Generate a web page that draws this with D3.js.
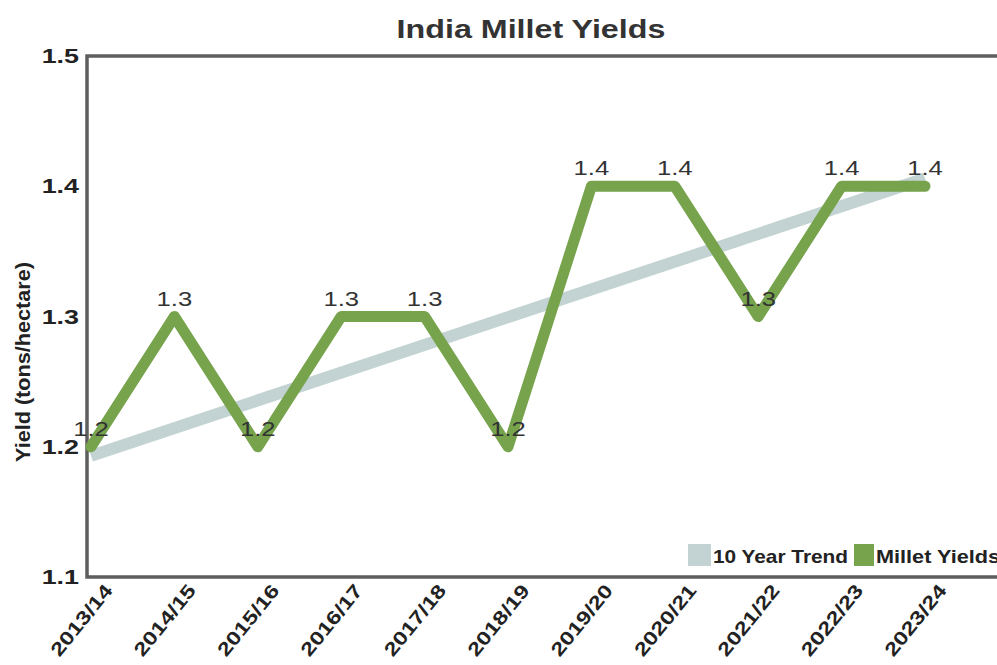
<!DOCTYPE html>
<html>
<head>
<meta charset="utf-8">
<script src="https://cdn.jsdelivr.net/npm/d3@7"></script>
<style>
  html, body { margin: 0; padding: 0; background: #fff; }
  svg { display: block; font-family: "Liberation Sans", Arial, Helvetica, sans-serif; }
</style>
</head>
<body>
<svg id="chart" width="997" height="665"></svg>
<script>
// Crop years and yields (tons/hectare)
const seasons = ["2013/14", "2014/15", "2015/16", "2016/17", "2017/18", "2018/19",
                 "2019/20", "2020/21", "2021/22", "2022/23", "2023/24"];
const milletYields = [1.2, 1.3, 1.2, 1.3, 1.3, 1.2, 1.4, 1.4, 1.3, 1.4, 1.4];
// 10-year trend line, start and end values
const trendSeasons = ["2013/14", "2023/24"];
const trendValues = [1.193, 1.406];
const yTicks = [1.1, 1.2, 1.3, 1.4, 1.5];

const svg = d3.select("#chart");
const plot = { left: 87, top: 56, right: 1010, bottom: 577 };
const GREEN = "#76a34c", TREND = "#c3d2d2", INK = "#222";

const x = d3.scalePoint().domain(seasons).range([91, 925]);
const y = d3.scaleLinear().domain([1.1, 1.5]).range([plot.bottom, plot.top]);

// Widen glyphs horizontally by factor k (wide grotesque look)
function widen(sel, k) {
  sel.each(function () {
    const w = this.getComputedTextLength();
    d3.select(this).attr("textLength", w * k).attr("lengthAdjust", "spacingAndGlyphs");
  });
  return sel;
}

// Title
svg.append("text")
  .attr("x", 531).attr("y", 38)
  .attr("text-anchor", "middle")
  .attr("font-size", 25).attr("font-weight", "bold")
  .attr("fill", "#333")
  .text("India Millet Yields")
  .call(widen, 1.29);

// Plot frame (left, top, bottom)
svg.append("path")
  .attr("d", `M${plot.right},${plot.top}H${plot.left}V${plot.bottom}H${plot.right}`)
  .attr("fill", "none").attr("stroke", "#5e5e5e").attr("stroke-width", 3.5);

// Y axis
const yAxis = d3.axisLeft(y).tickValues(yTicks).tickSize(0).tickPadding(8)
  .tickFormat(d3.format(".1f"));
const gy = svg.append("g").attr("transform", `translate(${plot.left},0)`).call(yAxis);
gy.select(".domain").remove();
gy.selectAll("text")
  .attr("font-size", 21).attr("font-weight", "bold").attr("fill", INK)
  .attr("font-family", "Liberation Sans, Arial, sans-serif")
  .call(widen, 1.28);

svg.append("text")
  .attr("transform", "translate(30,362) rotate(-90)")
  .attr("text-anchor", "middle")
  .attr("font-size", 20).attr("font-weight", "bold").attr("fill", INK)
  .attr("textLength", 200).attr("lengthAdjust", "spacingAndGlyphs")
  .text("Yield (tons/hectare)");

// X axis labels
const xAxis = d3.axisBottom(x).tickSize(0).tickPadding(0);
const gx = svg.append("g").attr("transform", `translate(0,${plot.bottom})`).call(xAxis);
gx.select(".domain").remove();
gx.selectAll("text")
  .attr("font-size", 19).attr("font-weight", "bold").attr("fill", INK)
  .attr("font-family", "Liberation Sans, Arial, sans-serif")
  .attr("text-anchor", "end")
  .attr("dy", null).attr("y", 0)
  .attr("transform", "translate(22,14) rotate(-51)")
  .attr("textLength", 86).attr("lengthAdjust", "spacingAndGlyphs");

// Trend line
svg.append("path")
  .datum(trendSeasons.map((s, i) => [s, trendValues[i]]))
  .attr("fill", "none")
  .attr("stroke", TREND).attr("stroke-width", 12)
  .attr("d", d3.line().x(d => x(d[0])).y(d => y(d[1])));

// Millet yield line
const pts = seasons.map((s, i) => [s, milletYields[i]]);
svg.append("path")
  .datum(pts)
  .attr("fill", "none")
  .attr("stroke", GREEN).attr("stroke-width", 11)
  .attr("stroke-linejoin", "round").attr("stroke-linecap", "round")
  .attr("d", d3.line().x(d => x(d[0])).y(d => y(d[1])));

// Value labels
svg.append("g").selectAll("text")
  .data(pts).join("text")
  .attr("x", d => x(d[0]))
  .attr("y", d => y(d[1]) - 11)
  .attr("text-anchor", "middle")
  .attr("font-size", 20).attr("fill", "#333")
  .text(d => d3.format(".1f")(d[1]))
  .call(widen, 1.28);

// Legend
const lg = svg.append("g").attr("transform", "translate(688,544)");
lg.append("rect").attr("x", 0).attr("y", 0).attr("width", 23).attr("height", 22).attr("fill", TREND);
lg.append("text").attr("x", 25).attr("y", 19)
  .attr("font-size", 19).attr("font-weight", "bold").attr("fill", INK)
  .attr("textLength", 135).attr("lengthAdjust", "spacingAndGlyphs")
  .text("10 Year Trend");
lg.append("rect").attr("x", 166).attr("y", 0).attr("width", 20).attr("height", 22).attr("fill", GREEN);
lg.append("text").attr("x", 188).attr("y", 19)
  .attr("font-size", 19).attr("font-weight", "bold").attr("fill", INK)
  .attr("textLength", 124).attr("lengthAdjust", "spacingAndGlyphs")
  .text("Millet Yields");
</script>
</body>
</html>
